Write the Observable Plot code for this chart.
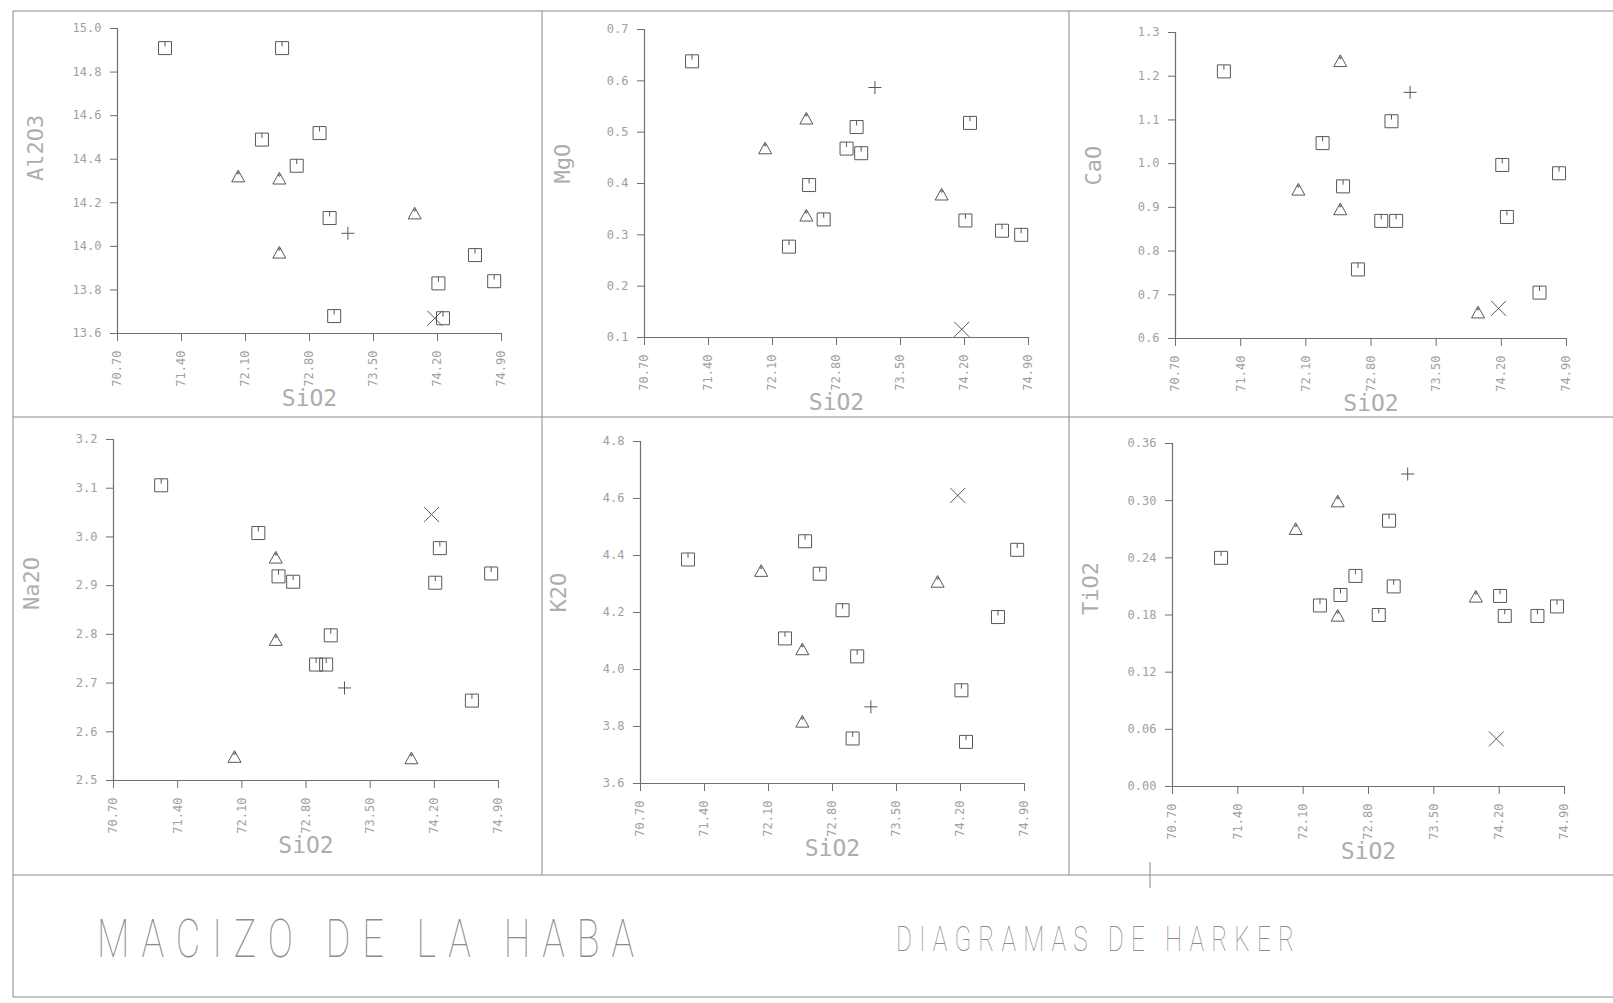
<!DOCTYPE html>
<html>
<head>
<meta charset="utf-8">
<script src="https://cdn.jsdelivr.net/npm/d3@7"></script>
<script src="https://cdn.jsdelivr.net/npm/@observablehq/plot@0.6"></script>
<style>
  html, body { margin: 0; padding: 0; background: #fff; }
  #page { position: relative; width: 1613px; height: 1003px; overflow: hidden; background: #fff; }
  .panel { position: absolute; }
  #frame { position: absolute; left: 0; top: 0; }
</style>
</head>
<body>
<div id="page"></div>
<script>
// ---------------- DATA ----------------
// sample symbol groups: "sq" = square, "tri" = triangle, "plus" = cross, "x" = X
const sampleGroup = ["sq","sq","sq","sq","sq","sq","sq","sq","sq","sq","sq","tri","tri","tri","tri","plus","x"];
const sio2  = [71.22, 72.28, 72.50, 72.66, 72.91, 73.02, 73.07, 74.21, 74.26, 74.61, 74.82, 72.02, 72.47, 72.47, 73.95, 73.22, 74.17];
const al2o3 = [14.91, 14.49, 14.91, 14.37, 14.52, 14.13, 13.68, 13.83, 13.67, 13.96, 13.84, 14.32, 14.31, 13.97, 14.15, 14.06, 13.67];
const mgo   = [0.638, 0.277, 0.397, 0.330, 0.468, 0.510, 0.459, 0.328, 0.518, 0.308, 0.300, 0.468, 0.526, 0.337, 0.378, 0.587, 0.116];
const cao   = [1.211, 1.047, 0.948, 0.758, 0.869, 1.097, 0.869, 0.997, 0.878, 0.705, 0.978, 0.940, 1.234, 0.895, 0.659, 1.163, 0.669];
const na2o  = [3.106, 3.008, 2.919, 2.908, 2.738, 2.738, 2.798, 2.906, 2.977, 2.664, 2.925, 2.548, 2.957, 2.788, 2.545, 2.690, 3.046];
const k2o   = [4.386, 4.109, 4.450, 4.336, 4.208, 3.758, 4.046, 3.927, 3.746, 4.184, 4.420, 4.345, 4.070, 3.816, 4.307, 3.869, 4.611];
const tio2  = [0.240, 0.190, 0.201, 0.221, 0.180, 0.279, 0.210, 0.200, 0.179, 0.179, 0.189, 0.270, 0.299, 0.179, 0.199, 0.328, 0.050];

const xLabel = "SiO2";
const xTicks = [70.70, 71.40, 72.10, 72.80, 73.50, 74.20, 74.90];
const al2o3Ticks = [13.6, 13.8, 14.0, 14.2, 14.4, 14.6, 14.8, 15.0];
const mgoTicks   = [0.1, 0.2, 0.3, 0.4, 0.5, 0.6, 0.7];
const caoTicks   = [0.6, 0.7, 0.8, 0.9, 1.0, 1.1, 1.2, 1.3];
const na2oTicks  = [2.5, 2.6, 2.7, 2.8, 2.9, 3.0, 3.1, 3.2];
const k2oTicks   = [3.6, 3.8, 4.0, 4.2, 4.4, 4.6, 4.8];
const tio2Ticks  = [0.00, 0.06, 0.12, 0.18, 0.24, 0.30, 0.36];

const oxideNames = ["Al2O3", "MgO", "CaO", "Na2O", "K2O", "TiO2"];
const oxideValues = [al2o3, mgo, cao, na2o, k2o, tio2];
const oxideTicks = [al2o3Ticks, mgoTicks, caoTicks, na2oTicks, k2oTicks, tio2Ticks];
const oxideDecimals = [1, 1, 1, 1, 1, 2];

const titleText = "MACIZO DE LA HABA";
const subtitleText = "DIAGRAMAS DE HARKER";

// ---------------- LAYOUT ----------------
// axis box of each panel in page pixels: [left, right, top, bottom]
const boxes = [
  [117, 501, 28, 333],
  [644, 1028, 29, 337],
  [1175, 1566, 32, 338],
  [113, 498, 439, 780],
  [640, 1024, 441, 783],
  [1172, 1564, 443, 786]
];
const M = {left: 100, right: 30, top: 16, bottom: 92};

// ---------------- plotter-style symbols ----------------
const rOf = size => Math.sqrt(size / Math.PI);
const squareTick = {draw(ctx, size) { const s = rOf(size);
  ctx.moveTo(-s, -s); ctx.lineTo(s, -s); ctx.lineTo(s, s); ctx.lineTo(-s, s); ctx.closePath();
  ctx.moveTo(0, -s); ctx.lineTo(0, -s * 0.25); }};
const triangleDot = {draw(ctx, size) { const s = rOf(size);
  ctx.moveTo(0, -s); ctx.lineTo(s, s * 0.8); ctx.lineTo(-s, s * 0.8); ctx.closePath();
  ctx.moveTo(0.9, -s + 3); ctx.arc(0, -s + 3, 0.9, 0, 2 * Math.PI); }};
const plusSym = {draw(ctx, size) { const s = rOf(size);
  ctx.moveTo(-s, 0); ctx.lineTo(s, 0); ctx.moveTo(0, -s); ctx.lineTo(0, s); }};
const xSym = {draw(ctx, size) { const s = rOf(size);
  ctx.moveTo(-s, -s); ctx.lineTo(s, s); ctx.moveTo(s, -s); ctx.lineTo(-s, s); }};
const symbolFor = {sq: [squareTick, 6.5], tri: [triangleDot, 6.5], plus: [plusSym, 6.5], x: [xSym, 7.5]};

const page = document.getElementById("page");
const markColor = "#585858";
const axisColor = "#707070";
const textColor = "#a0a0a0";

oxideNames.forEach((name, i) => {
  const [L, R, T, B] = boxes[i];
  const rows = sio2.map((s, k) => ({sio2: s, v: oxideValues[i][k], g: sampleGroup[k]}));
  const ticks = oxideTicks[i];
  const yDom = [ticks[0], ticks[ticks.length - 1]];
  const dec = oxideDecimals[i];
  const groups = ["sq", "tri", "plus", "x"].map(g =>
    Plot.dot(rows.filter(d => d.g === g), {
      x: "sio2", y: "v", symbol: symbolFor[g][0], r: symbolFor[g][1],
      fill: "none", stroke: markColor, strokeWidth: 1
    }));
  const chart = Plot.plot({
    width: (R - L) + M.left + M.right,
    height: (B - T) + M.top + M.bottom,
    marginLeft: M.left, marginRight: M.right, marginTop: M.top, marginBottom: M.bottom,
    style: "background: transparent; overflow: visible; font-family: 'DejaVu Sans Mono', monospace; font-size: 12px;",
    x: {domain: [xTicks[0], xTicks[xTicks.length - 1]], axis: null},
    y: {domain: yDom, axis: null},
    marks: [
      Plot.axisX({ticks: xTicks, tickFormat: d => d.toFixed(2), tickRotate: -90, tickSize: 8, tickPadding: 9,
        stroke: axisColor, fill: textColor, label: null, fontSize: 12}),
      Plot.axisY({ticks: ticks, tickFormat: d => d.toFixed(dec), tickSize: 7, tickPadding: 9,
        stroke: axisColor, fill: textColor, label: null, fontSize: 12}),
      Plot.ruleY([yDom[0]], {stroke: axisColor, strokeWidth: 1.2}),
      Plot.ruleX([xTicks[0]], {stroke: axisColor, strokeWidth: 1.2}),
      Plot.text([xLabel], {text: d => d, frameAnchor: "bottom", dy: 72, lineAnchor: "bottom",
        fontSize: 23, fill: "#adadad"}),
      Plot.text([name], {text: d => d, frameAnchor: "left", dx: -82, rotate: -90,
        fontSize: 22, fill: "#adadad"}),
      ...groups
    ]
  });
  chart.classList.add("panel");
  chart.style.left = (L - M.left) + "px";
  chart.style.top = (T - M.top) + "px";
  chart.style.maxWidth = "none";
  page.appendChild(chart);
});

// ---------------- frame + titles ----------------
const ns = "http://www.w3.org/2000/svg";
const frame = document.createElementNS(ns, "svg");
frame.setAttribute("id", "frame");
frame.setAttribute("width", 1613);
frame.setAttribute("height", 1003);
const lines = [
  [13, 11, 1613, 11], [13, 11, 13, 997], [13, 417, 1613, 417],
  [542, 11, 542, 875], [1069, 11, 1069, 875],
  [13, 875, 1613, 875], [13, 997, 1613, 997], [1150, 862, 1150, 888]
];
for (const [x1, y1, x2, y2] of lines) {
  const l = document.createElementNS(ns, "line");
  l.setAttribute("x1", x1); l.setAttribute("y1", y1); l.setAttribute("x2", x2); l.setAttribute("y2", y2);
  l.setAttribute("stroke", "#8a8a8a"); l.setAttribute("stroke-width", 1);
  frame.appendChild(l);
}
// plotter lettering: thin, narrow capitals with wide gaps
function addText(str, x, y, size, len) {
  const sx = 0.7;
  const t = document.createElementNS(ns, "text");
  t.setAttribute("x", 0); t.setAttribute("y", 0);
  t.setAttribute("transform", `translate(${x},${y}) scale(${sx},1)`);
  t.setAttribute("font-family", "Roboto, 'DejaVu Sans', sans-serif");
  t.setAttribute("font-weight", 100);
  t.setAttribute("font-size", size);
  t.setAttribute("textLength", len / sx);
  t.setAttribute("lengthAdjust", "spacing");
  t.setAttribute("fill", "#8c8c8c");
  t.textContent = str;
  frame.appendChild(t);
}
addText(titleText, 97, 957, 54, 537);
addText(subtitleText, 896, 951, 35, 398);
page.insertBefore(frame, page.firstChild);
</script>
</body>
</html>
